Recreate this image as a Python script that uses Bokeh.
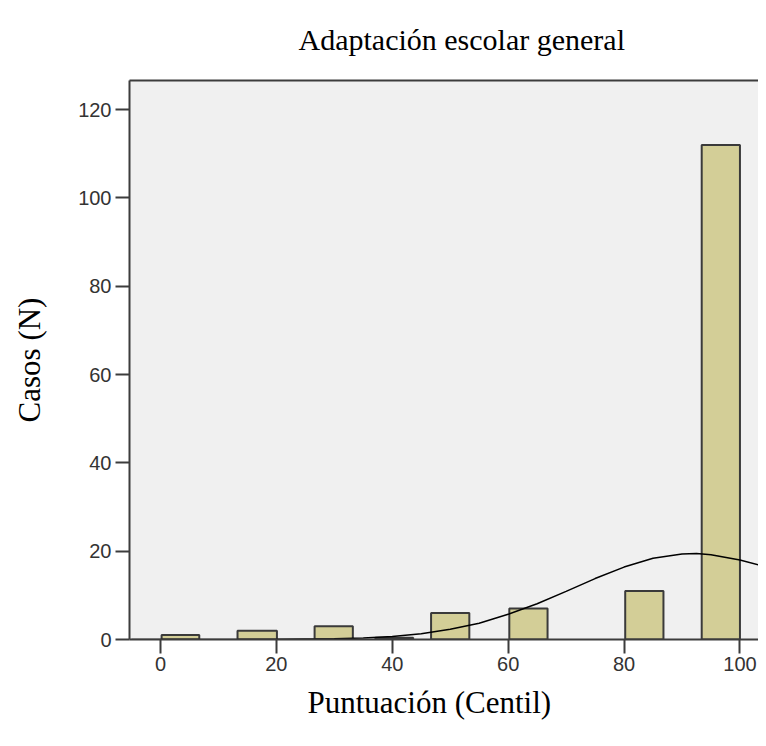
from bokeh.plotting import figure
from bokeh.models import Range1d, FixedTicker, LinearAxis, Title, ColumnDataSource
from bokeh.embed import file_html
from bokeh.resources import INLINE

title_text = "Adaptación escolar general"
x_label = "Puntuación (Centil)"
y_label = "Casos (N)"

# histogram bars
bin_lo = [0.2, 13.3, 26.6, 37.1, 46.7, 60.2, 80.2, 93.4]
bin_hi = [6.7, 20.1, 33.2, 43.6, 53.3, 66.8, 86.8, 100.0]
counts = [1, 2, 3, 0.4, 6, 7, 11, 112]

# normal curve points
curve_x = [-5, 0, 10, 20, 30, 35, 40, 45, 50, 55, 60, 65, 70, 75, 80, 85, 90, 92.5, 95, 100, 105]
curve_y = [0, 0, 0.01, 0.03, 0.17, 0.36, 0.7, 1.3, 2.3, 3.7, 5.7, 8.1, 10.9, 13.8, 16.4, 18.4, 19.35, 19.45, 19.2, 18.0, 16.3]

x_ticks = [0, 20, 40, 60, 80, 100]
y_ticks = [0, 20, 40, 60, 80, 100, 120]

p = figure(width=758, height=738, output_backend="svg", toolbar_location=None,
           x_range=Range1d(-5.34, 103.2), y_range=Range1d(0, 126.6),
           min_border_left=129, min_border_top=80, min_border_bottom=99,
           min_border_right=0, x_axis_location=None, y_axis_location=None)

p.background_fill_color = "#f0f0f0"
p.border_fill_color = "white"
p.outline_line_color = None
p.grid.visible = False

bars = ColumnDataSource(dict(left=bin_lo, right=bin_hi, top=counts))
p.quad(left="left", right="right", bottom=0, top="top", source=bars,
       fill_color="#d3ce97", line_color="#3a3a3a", line_width=2)
p.line(curve_x, curve_y, line_color="black", line_width=1.5)

def style_axis(ax, ticks, standoff):
    ax.ticker = FixedTicker(ticks=ticks)
    ax.axis_line_color = "#3c3c3c"
    ax.axis_line_width = 2
    ax.major_tick_line_color = "#3c3c3c"
    ax.major_tick_line_width = 2
    ax.major_tick_out = 14
    ax.major_tick_in = 0
    ax.minor_tick_line_color = None
    ax.major_label_text_font = "Liberation Sans"
    ax.major_label_text_font_size = "20px"
    ax.major_label_text_color = "#333333"
    ax.major_label_standoff = standoff

yax = LinearAxis(axis_label=y_label)
style_axis(yax, y_ticks, 4)
yax.axis_label_text_font = "Liberation Serif"
yax.axis_label_text_font_size = "31px"
yax.axis_label_text_font_style = "normal"
yax.axis_label_text_color = "black"
yax.axis_label_standoff = 28
p.add_layout(yax, "left")

xax = LinearAxis()
style_axis(xax, x_ticks, 3)
p.add_layout(xax, "below")

top_ax = LinearAxis(ticker=FixedTicker(ticks=[]), axis_line_color="#3c3c3c", axis_line_width=2,
                    major_tick_line_color=None, minor_tick_line_color=None,
                    major_label_text_color=None)
p.add_layout(top_ax, "above")

xt = Title(text=x_label, align="left", offset=178, text_font="Liberation Serif",
           text_font_size="31px", text_font_style="normal", text_color="black", standoff=18)
p.add_layout(xt, "below")

# empty spacer panel between the frame and the title, to lift the title
spacer = Title(text=" ", text_font_size="10px", standoff=7)
p.add_layout(spacer, "above")

tt = Title(text=title_text, align="left", offset=169,
           text_font="Liberation Serif", text_font_size="30px", text_font_style="normal",
           text_color="black", standoff=10)
p.add_layout(tt, "above")

open("out.html", "w").write(file_html(p, INLINE))
